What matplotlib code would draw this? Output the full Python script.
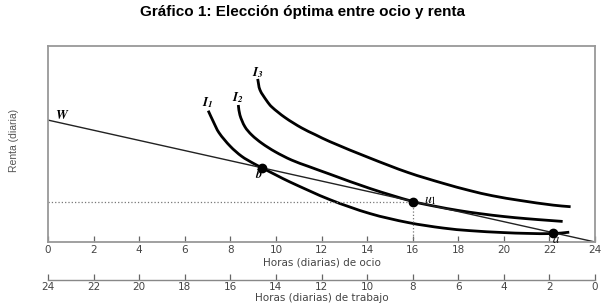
import matplotlib
matplotlib.use('Agg')
import matplotlib.pyplot as plt
import numpy as np
from matplotlib.path import Path
from matplotlib.patches import PathPatch

# restricción presupuestaria (recta W)
budget_x = [0, 24]
budget_y = [62.2, 0]

# curvas de indiferencia
i1_x = [7.03, 7.25, 7.5, 8.0, 8.5, 9.0, 9.38, 10.0, 10.62, 12.37, 14.13, 15.81, 17.35, 18.5, 20.0, 21.0, 22.17, 22.87]
i1_y = [67.0, 61.5, 55.8, 48.8, 43.7, 40.2, 37.9, 34.2, 30.6, 21.6, 14.5, 9.9, 7.1, 5.8, 4.8, 4.4, 4.3, 5.0]

i2_x = [8.35, 8.42, 8.64, 8.94, 9.38, 9.96, 10.69, 11.42, 12.37, 14.13, 16.03, 17.0, 18.0, 19.0, 20.0, 21.0, 22.0, 22.58]
i2_y = [69.9, 64.8, 58.8, 54.6, 50.4, 46.1, 41.8, 38.6, 34.6, 27.3, 20.6, 18.2, 16.1, 14.4, 13.0, 11.9, 11.0, 10.5]

i3_x = [9.20, 9.30, 9.60, 9.81, 10.4, 11.13, 11.72, 12.37, 14.13, 15.81, 17.35, 18.52, 19.5, 20.71, 22.17, 22.93]
i3_y = [83.2, 77.6, 72.0, 69.0, 63.5, 58.2, 54.8, 51.2, 42.8, 35.4, 29.9, 26.2, 23.6, 21.2, 18.8, 18.0]

# puntos marcados: b, u1, a
pts_x = [9.38, 16.03, 22.17]
pts_y = [37.9, 20.6, 4.4]

leisure_ticks = list(range(0, 25, 2))
work_labels = [str(24 - t) for t in leisure_ticks]


def smooth_path(xs, ys, sx=11.6):
    # curva suave (Bezier) que pasa por los puntos leídos
    P = np.column_stack([np.asarray(xs) * sx, ys])
    d = np.linalg.norm(np.diff(P, axis=0), axis=1)
    n = len(P)
    m = np.zeros_like(P)
    m[0] = (P[1] - P[0]) / d[0]
    m[-1] = (P[-1] - P[-2]) / d[-1]
    for i in range(1, n - 1):
        m[i] = (P[i + 1] - P[i - 1]) / (d[i - 1] + d[i])
    verts = [P[0]]
    codes = [Path.MOVETO]
    for i in range(n - 1):
        verts += [P[i] + m[i] * d[i] / 3, P[i + 1] - m[i + 1] * d[i] / 3, P[i + 1]]
        codes += [Path.CURVE4] * 3
    verts = np.array(verts)
    verts[:, 0] /= sx
    return Path(verts, codes)


plt.rcParams['mathtext.fontset'] = 'stix'

fig = plt.figure(figsize=(6.05, 3.06), dpi=100)
ax = fig.add_axes([48/605, 1-242/306, 547/605, 196/306])

ax.plot(budget_x, budget_y, color='#222222', linewidth=1.0)
for xs, ys in [(i1_x, i1_y), (i2_x, i2_y), (i3_x, i3_y)]:
    ax.add_patch(PathPatch(smooth_path(xs, ys), facecolor='none', edgecolor='black',
                           linewidth=2.0, capstyle='butt'))

# líneas punteadas hasta u1
ax.plot([0, pts_x[1]], [pts_y[1], pts_y[1]], color='#777777', linestyle=':', linewidth=0.9)
ax.plot([pts_x[1], pts_x[1]], [0, pts_y[1]], color='#777777', linestyle=':', linewidth=0.9)

ax.plot(pts_x, pts_y, 'o', color='black', markersize=6, zorder=5)

# etiquetas
ax.text(0.3, 64.3, r'$\mathbfit{W}$', fontsize=9.5, va='center', ha='left')
ax.text(7.02, 70.9, r'$\mathbfit{I}_{\mathbfit{1}}$', fontsize=9.5, ha='center', va='center')
ax.text(8.34, 73.5, r'$\mathbfit{I}_{\mathbfit{2}}$', fontsize=9.5, ha='center', va='center')
ax.text(9.23, 86.4, r'$\mathbfit{I}_{\mathbfit{3}}$', fontsize=9.5, ha='center', va='center')
ax.text(9.23, 34.7, r'$\mathbfit{b}$', fontsize=9, ha='center', va='center')
ax.text(16.76, 21.6, r'$\mathit{u}_{\mathit{1}}$', fontsize=10, ha='center', va='center')
ax.text(22.3, 1.2, r'$\mathit{a}$', fontsize=9, ha='center', va='center')

ax.set_xlim(0, 24)
ax.set_ylim(0, 100)
ax.set_yticks([])
ax.set_xticks(leisure_ticks)
ax.tick_params(axis='x', direction='in', length=4, width=0.9, color='#666666',
               labelsize=7.5, labelcolor='#444444', pad=2)
for s in ax.spines.values():
    s.set_color('#999999')
    s.set_linewidth(1.3)
ax.set_xlabel('Horas (diarias) de ocio', fontsize=7.5, color='#444444', labelpad=2)
fig.text(14/605, 0.542, 'Renta (diaria)', rotation=90, fontsize=7.5, color='#555555',
         family='Liberation Sans', ha='center', va='center')

# segundo eje: horas de trabajo
ax2 = fig.add_axes([48/605, 1-280/306, 547/605, 0.001])
ax2.set_xlim(0, 24)
ax2.set_xticks(leisure_ticks)
ax2.set_xticklabels(work_labels)
ax2.set_yticks([])
for side in ['top', 'left', 'right']:
    ax2.spines[side].set_visible(False)
ax2.spines['bottom'].set_color('#888888')
ax2.spines['bottom'].set_linewidth(1.0)
ax2.patch.set_alpha(0)
ax2.tick_params(axis='x', direction='in', length=4, width=0.9, color='#666666',
                labelsize=7.5, labelcolor='#444444', pad=1.5)
ax2.set_xlabel('Horas (diarias) de trabajo', fontsize=7.5, color='#444444', labelpad=1)

fig.suptitle('Gráfico 1: Elección óptima entre ocio y renta', fontsize=11, fontweight='bold',
             family='Liberation Sans', y=0.985)

fig.savefig('out.png', dpi=100)
